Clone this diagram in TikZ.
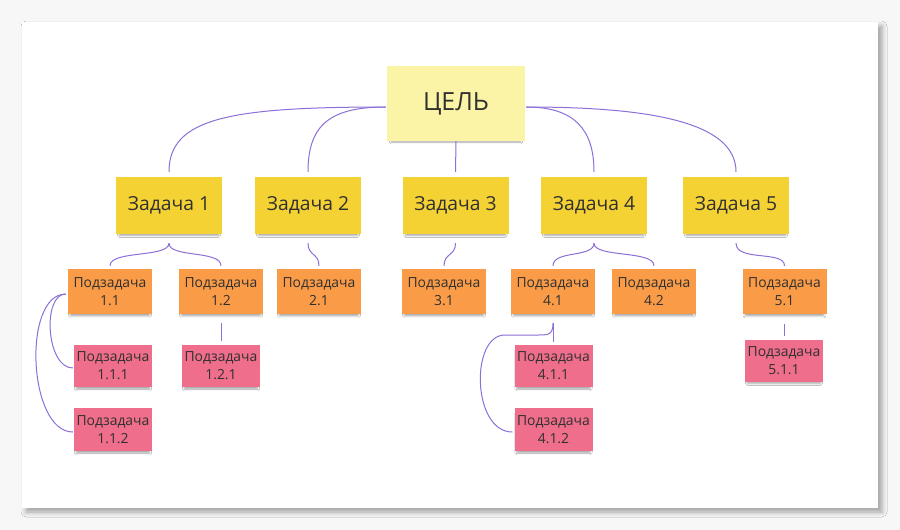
\documentclass[tikz,border=0pt]{standalone}
\usepackage{fontspec}
\setmainfont{Open Sans}
\usetikzlibrary{calc,shadows.blur}
\definecolor{bgc}{HTML}{F7F7F7}
\definecolor{goalc}{HTML}{FBF4A6}
\definecolor{taskc}{HTML}{F5D233}
\definecolor{subc}{HTML}{FA9C47}
\definecolor{subsubc}{HTML}{EE6E8B}
\definecolor{linec}{HTML}{8D6FD8}
\definecolor{txtc}{HTML}{303030}
\tikzset{
  note/.style={rectangle, inner sep=0pt, align=center, text=txtc,
    blur shadow={shadow xshift=0pt, shadow yshift=-3.5pt, shadow scale=0.94, shadow blur radius=2pt, shadow opacity=35}},
  goalbox/.style={note, fill=goalc, minimum width=138pt, minimum height=75pt, font=\fontsize{25}{28}\selectfont},
  taskbox/.style={note, fill=taskc, minimum width=106pt, minimum height=57pt, font=\fontsize{19.3}{22}\selectfont},
  subbox/.style={note, fill=subc, minimum width=84pt, minimum height=45pt, font=\fontsize{13.9}{18}\selectfont},
  subsubbox/.style={note, fill=subsubc, minimum width=78pt, minimum height=42pt, font=\fontsize{13.9}{18}\selectfont},
  conn/.style={draw=linec, line width=1pt}
}
\begin{document}
\begin{tikzpicture}[x=1pt,y=-1pt]
\useasboundingbox (0,0) rectangle (900,530);
\fill[bgc] (0,0) rectangle (900,530);
\path[fill=white, blur shadow={shadow xshift=4pt, shadow yshift=-4pt, shadow blur radius=5pt, shadow opacity=35}] (22,22) rectangle (878,508);

% goal
\node[goalbox] (goal) at (456,103.5) {ЦЕЛЬ};
% tasks
\node[taskbox] (z1) at (169,205.5) {Задача 1};
\node[taskbox] (z2) at (308,205.5) {Задача 2};
\node[taskbox] (z3) at (455.5,205.5) {Задача 3};
\node[taskbox] (z4) at (594,205.5) {Задача 4};
\node[taskbox] (z5) at (736,205.5) {Задача 5};
% subtasks
\node[subbox] (s11) at (110,291.5) {Подзадача\\1.1};
\node[subbox] (s12) at (221,291.5) {Подзадача\\1.2};
\node[subbox] (s21) at (319,291.5) {Подзадача\\2.1};
\node[subbox] (s31) at (444,291.5) {Подзадача\\3.1};
\node[subbox] (s41) at (553,291.5) {Подзадача\\4.1};
\node[subbox] (s42) at (654,291.5) {Подзадача\\4.2};
\node[subbox] (s51) at (784.5,291.5) {Подзадача\\5.1};
% sub-subtasks
\node[subsubbox] (s111) at (113,366) {Подзадача\\1.1.1};
\node[subsubbox, minimum height=43pt] (s112) at (113,429.5) {Подзадача\\1.1.2};
\node[subsubbox] (s121) at (221,366) {Подзадача\\1.2.1};
\node[subsubbox] (s411) at (553.5,366) {Подзадача\\4.1.1};
\node[subsubbox, minimum height=43pt] (s412) at (553.5,429.5) {Подзадача\\4.1.2};
\node[subsubbox] (s511) at (784,360.5) {Подзадача\\5.1.1};

% connectors from goal
\coordinate (gl) at ($(goal.west)+(-1,3.5)$);
\coordinate (gr) at ($(goal.east)+(1,3.5)$);
\draw[conn] (gl) .. controls (230,107) and (169,118) .. ($(z1.north)+(0,-5)$);
\draw[conn] (gl) .. controls (330,107) and (308,125) .. ($(z2.north)+(0,-5)$);
\draw[conn] (goal.south) -- ($(z3.north)+(0,-5)$);
\draw[conn] (gr) .. controls (575,107) and (594,130) .. ($(z4.north)+(0,-5)$);
\draw[conn] (gr) .. controls (650,107) and (736,122) .. ($(z5.north)+(0,-5)$);

% tasks to subtasks
\coordinate (z1b) at ($(z1.south)+(0,9)$);
\draw[conn] (z1b) .. controls (169,258) and (110,250) .. ($(s11.north)+(0,-3)$);
\draw[conn] (z1b) .. controls (169,258) and (221,250) .. ($(s12.north)+(0,-3)$);
\draw[conn] ($(z2.south)+(0,9)$) .. controls (308,256) and (319,253) .. ($(s21.north)+(0,-3)$);
\draw[conn] ($(z3.south)+(0,9)$) .. controls (455.5,256) and (444,253) .. ($(s31.north)+(0,-3)$);
\coordinate (z4b) at ($(z4.south)+(0,9)$);
\draw[conn] (z4b) .. controls (594,258) and (553,250) .. ($(s41.north)+(0,-3)$);
\draw[conn] (z4b) .. controls (594,258) and (654,250) .. ($(s42.north)+(0,-3)$);
\draw[conn] ($(z5.south)+(0,9)$) .. controls (736,262) and (784.5,250) .. ($(s51.north)+(0,-3)$);

% subtasks to sub-subtasks
\coordinate (s11w) at ($(s11.west)+(-2,2.5)$);
\draw[conn] (s11w) .. controls (42,294) and (46,368) .. ($(s111.west)+(-1,2)$);
\draw[conn] (s11w) .. controls (22,294) and (28,432) .. ($(s112.west)+(-1,2.5)$);
\draw[conn] ($(s12.south)+(0,9)$) -- ($(s121.north)+(0,-4)$);
\coordinate (s41b) at ($(s41.south)+(0,9)$);
\draw[conn] (s41b) -- ($(s411.north)+(-0.5,-3)$);
\draw[conn] (s41b) .. controls (553,335) and (548,335) .. (538,335) -- (505,335)
  .. controls (470,335) and (472,432) .. ($(s412.west)+(-2,2.5)$);
\draw[conn] ($(s51.south)+(0,10)$) -- ($(s511.north)+(0.5,-3)$);
\end{tikzpicture}
\end{document}
